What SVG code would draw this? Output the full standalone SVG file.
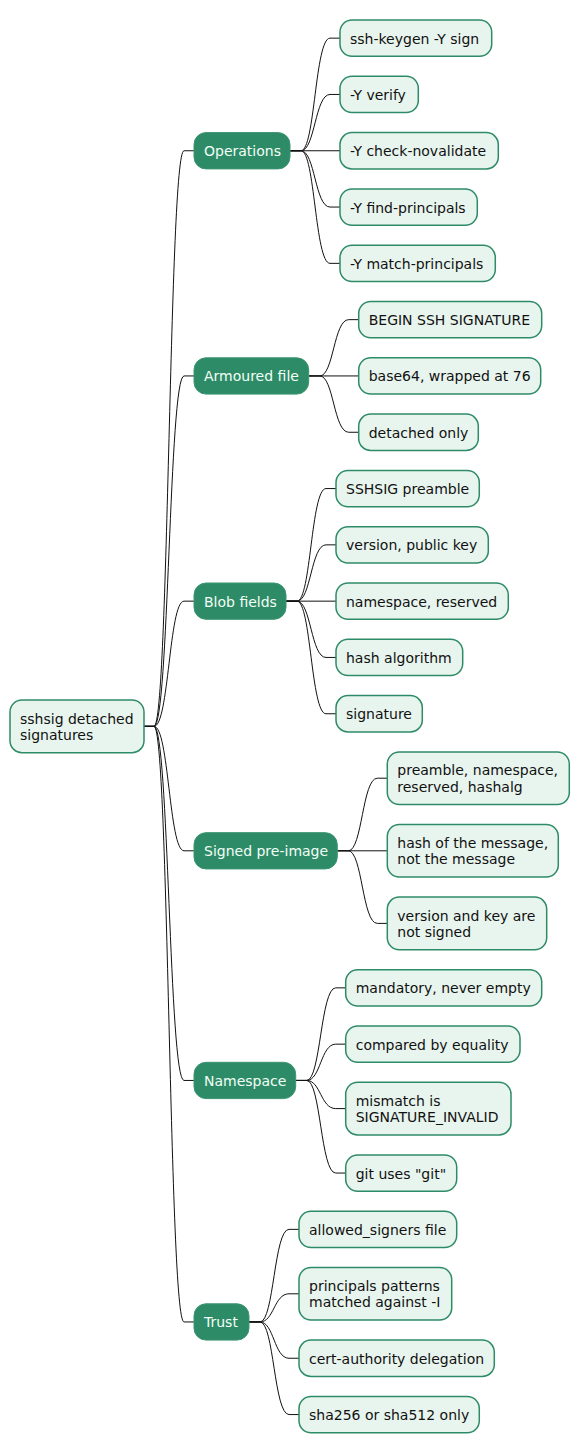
<svg xmlns="http://www.w3.org/2000/svg" width="580" height="1453" viewBox="0 0 580 1453">
<style>
.root rect,.leaf rect{fill:#E8F5EE;stroke:#2E8B67;stroke-width:1.5}
.mid rect{fill:#2E8B67;stroke:#3C9572;stroke-width:1}
text{font-family:"DejaVu Sans","Liberation Sans",sans-serif;font-size:14px}
.root text,.leaf text{fill:#111111}
.mid text{fill:#F2FFF6}
#connectors path{fill:none;stroke:#111111;stroke-width:1}
</style>
<rect width="580" height="1453" fill="#FFFFFF"/>
<g id="connectors">
<path d="M144,726.35 L154,726.35 C169,726.35 169,150.75 184,150.75 L194,150.75"/>
<path d="M144,726.35 L154,726.35 C169,726.35 169,375.95 184,375.95 L194,375.95"/>
<path d="M144,726.35 L154,726.35 C169,726.35 169,601.15 184,601.15 L194,601.15"/>
<path d="M144,726.35 L154,726.35 C169,726.35 169,850.8 184,850.8 L194,850.8"/>
<path d="M144,726.35 L154,726.35 C169,726.35 169,1080.45 184,1080.45 L194,1080.45"/>
<path d="M144,726.35 L154,726.35 C169,726.35 169,1321.95 184,1321.95 L194,1321.95"/>
<path d="M290,150.75 L301,150.75 C315,150.75 315,38.15 330,38.15 L340,38.15"/>
<path d="M290,150.75 L301,150.75 C315,150.75 315,94.45 330,94.45 L340,94.45"/>
<path d="M290,150.75 L340,150.75"/>
<path d="M290,150.75 L301,150.75 C315,150.75 315,207.05 330,207.05 L340,207.05"/>
<path d="M290,150.75 L301,150.75 C315,150.75 315,263.35 330,263.35 L340,263.35"/>
<path d="M308.7,375.95 L319.7,375.95 C333.7,375.95 333.7,319.65 348.7,319.65 L358.7,319.65"/>
<path d="M308.7,375.95 L358.7,375.95"/>
<path d="M308.7,375.95 L319.7,375.95 C333.7,375.95 333.7,432.25 348.7,432.25 L358.7,432.25"/>
<path d="M286,601.15 L297,601.15 C311,601.15 311,488.55 326,488.55 L336,488.55"/>
<path d="M286,601.15 L297,601.15 C311,601.15 311,544.85 326,544.85 L336,544.85"/>
<path d="M286,601.15 L336,601.15"/>
<path d="M286,601.15 L297,601.15 C311,601.15 311,657.45 326,657.45 L336,657.45"/>
<path d="M286,601.15 L297,601.15 C311,601.15 311,713.75 326,713.75 L336,713.75"/>
<path d="M337.3,850.8 L348.3,850.8 C362.3,850.8 362.3,778.2 377.3,778.2 L387.3,778.2"/>
<path d="M337.3,850.8 L387.3,850.8"/>
<path d="M337.3,850.8 L348.3,850.8 C362.3,850.8 362.3,923.4 377.3,923.4 L387.3,923.4"/>
<path d="M295.7,1080.45 L306.7,1080.45 C320.7,1080.45 320.7,987.85 335.7,987.85 L345.7,987.85"/>
<path d="M295.7,1080.45 L306.7,1080.45 C320.7,1080.45 320.7,1044.15 335.7,1044.15 L345.7,1044.15"/>
<path d="M295.7,1080.45 L306.7,1080.45 C320.7,1080.45 320.7,1108.6 335.7,1108.6 L345.7,1108.6"/>
<path d="M295.7,1080.45 L306.7,1080.45 C320.7,1080.45 320.7,1173.05 335.7,1173.05 L345.7,1173.05"/>
<path d="M249,1321.95 L260,1321.95 C274,1321.95 274,1229.35 289,1229.35 L299,1229.35"/>
<path d="M249,1321.95 L260,1321.95 C274,1321.95 274,1293.8 289,1293.8 L299,1293.8"/>
<path d="M249,1321.95 L260,1321.95 C274,1321.95 274,1358.25 289,1358.25 L299,1358.25"/>
<path d="M249,1321.95 L260,1321.95 C274,1321.95 274,1414.55 289,1414.55 L299,1414.55"/>
</g>
<g id="root" class="root"><rect x="10" y="700.05" width="134" height="52.6" rx="12"/><text x="20" y="723.5">sshsig detached</text><text x="20" y="739.8">signatures</text></g>

<g id="operations" class="mid"><rect x="194" y="132.6" width="96" height="36.3" rx="12"/><text x="204" y="156.2">Operations</text></g>
<g id="op-sign" class="leaf"><rect x="340" y="20" width="151.7" height="36.3" rx="12"/><text x="350" y="43.6">ssh-keygen -Y sign</text></g>
<g id="op-verify" class="leaf"><rect x="340" y="76.3" width="78.3" height="36.3" rx="12"/><text x="350" y="99.9">-Y verify</text></g>
<g id="op-check" class="leaf"><rect x="340" y="132.6" width="158.3" height="36.3" rx="12"/><text x="350" y="156.2">-Y check-novalidate</text></g>
<g id="op-find" class="leaf"><rect x="340" y="188.9" width="137.3" height="36.3" rx="12"/><text x="350" y="212.5">-Y find-principals</text></g>
<g id="op-match" class="leaf"><rect x="340" y="245.2" width="155.3" height="36.3" rx="12"/><text x="350" y="268.8">-Y match-principals</text></g>

<g id="armoured" class="mid"><rect x="194" y="357.8" width="114.7" height="36.3" rx="12"/><text x="204" y="381.4">Armoured file</text></g>
<g id="arm-begin" class="leaf"><rect x="358.7" y="301.5" width="183" height="36.3" rx="12"/><text x="368.7" y="325.1">BEGIN SSH SIGNATURE</text></g>
<g id="arm-base64" class="leaf"><rect x="358.7" y="357.8" width="182" height="36.3" rx="12"/><text x="368.7" y="381.4">base64, wrapped at 76</text></g>
<g id="arm-detached" class="leaf"><rect x="358.7" y="414.1" width="119.6" height="36.3" rx="12"/><text x="368.7" y="437.7">detached only</text></g>

<g id="blob" class="mid"><rect x="194" y="583" width="92" height="36.3" rx="12"/><text x="204" y="606.6">Blob fields</text></g>
<g id="blob-preamble" class="leaf"><rect x="336" y="470.4" width="143.3" height="36.3" rx="12"/><text x="346" y="494">SSHSIG preamble</text></g>
<g id="blob-version" class="leaf"><rect x="336" y="526.7" width="152.3" height="36.3" rx="12"/><text x="346" y="550.3">version, public key</text></g>
<g id="blob-namespace" class="leaf"><rect x="336" y="583" width="172.3" height="36.3" rx="12"/><text x="346" y="606.6">namespace, reserved</text></g>
<g id="blob-hash" class="leaf"><rect x="336" y="639.3" width="126.7" height="36.3" rx="12"/><text x="346" y="662.9">hash algorithm</text></g>
<g id="blob-signature" class="leaf"><rect x="336" y="695.6" width="86.3" height="36.3" rx="12"/><text x="346" y="719.2">signature</text></g>

<g id="signed" class="mid"><rect x="194" y="832.65" width="143.3" height="36.3" rx="12"/><text x="204" y="856.3">Signed pre-image</text></g>
<g id="signed-fields" class="leaf"><rect x="387.3" y="751.9" width="182" height="52.6" rx="12"/><text x="397.3" y="775.4">preamble, namespace,</text><text x="397.3" y="791.7">reserved, hashalg</text></g>
<g id="signed-hash" class="leaf"><rect x="387.3" y="824.5" width="171" height="52.6" rx="12"/><text x="397.3" y="848">hash of the message,</text><text x="397.3" y="864.3">not the message</text></g>
<g id="signed-version" class="leaf"><rect x="387.3" y="897.1" width="159.4" height="52.6" rx="12"/><text x="397.3" y="920.6">version and key are</text><text x="397.3" y="936.9">not signed</text></g>

<g id="namespace" class="mid"><rect x="194" y="1062.3" width="101.7" height="36.3" rx="12"/><text x="204" y="1085.9">Namespace</text></g>
<g id="ns-mandatory" class="leaf"><rect x="345.7" y="969.7" width="196" height="36.3" rx="12"/><text x="355.7" y="993.3">mandatory, never empty</text></g>
<g id="ns-compared" class="leaf"><rect x="345.7" y="1026" width="174.3" height="36.3" rx="12"/><text x="355.7" y="1049.6">compared by equality</text></g>
<g id="ns-mismatch" class="leaf"><rect x="345.7" y="1082.3" width="165.3" height="52.6" rx="12"/><text x="355.7" y="1105.8">mismatch is</text><text x="355.7" y="1122.1">SIGNATURE_INVALID</text></g>
<g id="ns-git" class="leaf"><rect x="345.7" y="1154.9" width="111" height="36.3" rx="12"/><text x="355.7" y="1178.5">git uses "git"</text></g>

<g id="trust" class="mid"><rect x="194" y="1303.8" width="55" height="36.3" rx="12"/><text x="204" y="1327.4">Trust</text></g>
<g id="trust-allowed" class="leaf"><rect x="299" y="1211.2" width="157.7" height="36.3" rx="12"/><text x="309" y="1234.8">allowed_signers file</text></g>
<g id="trust-principals" class="leaf"><rect x="299" y="1267.5" width="152.7" height="52.6" rx="12"/><text x="309" y="1291">principals patterns</text><text x="309" y="1307.3">matched against -I</text></g>
<g id="trust-ca" class="leaf"><rect x="299" y="1340.1" width="195.3" height="36.3" rx="12"/><text x="309" y="1363.7">cert-authority delegation</text></g>
<g id="trust-hash" class="leaf"><rect x="299" y="1396.4" width="180.3" height="36.3" rx="12"/><text x="309" y="1420">sha256 or sha512 only</text></g>
</svg>
